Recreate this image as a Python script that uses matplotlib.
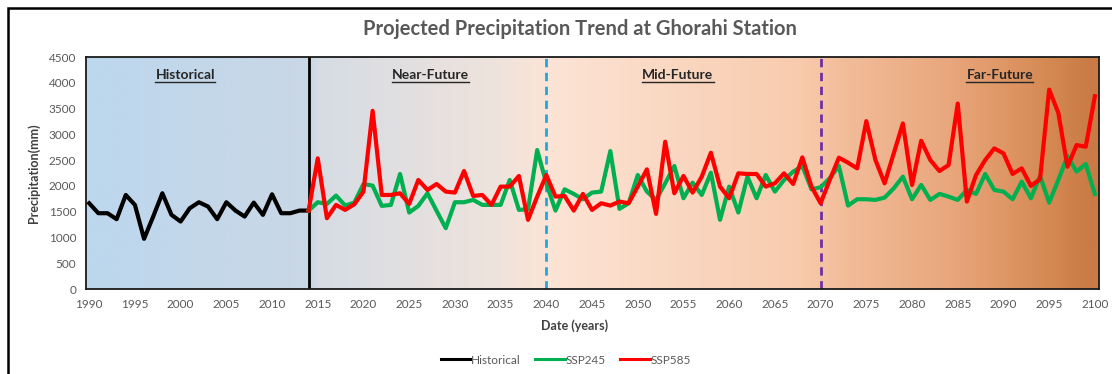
import numpy as np
import matplotlib.pyplot as plt
from matplotlib.colors import LinearSegmentedColormap
from matplotlib.patches import Rectangle

# annual precipitation (mm) at Ghorahi
hist_years = list(range(1990, 2015))
hist_precip = [1663, 1470, 1470, 1354, 1824, 1631, 973, 1405, 1857, 1438,
               1309, 1567, 1683, 1599, 1354, 1683, 1521, 1405, 1676, 1438,
               1837, 1470, 1470, 1521, 1521]

proj_years = list(range(2014, 2101))
ssp245 = [1521, 1683, 1650, 1812, 1618, 1676, 2037, 2005, 1612, 1631,
          2231, 1483, 1612, 1857, 1515, 1180, 1683, 1683, 1728, 1631,
          1631, 1631, 2115, 1534, 1547, 2695, 2050, 1521, 1934, 1844,
          1741, 1870, 1889, 2675, 1554, 1663, 2211, 1889, 1728, 2050,
          2385, 1760, 2063, 1824, 2256, 1341, 1986, 1483, 2179, 1760,
          2211, 1889, 2115, 2276, 2385, 1934, 1973, 2150, 2385, 1618,
          1741, 1741, 1728, 1773, 1953, 2179, 1741, 2018, 1728, 1844,
          1792, 1728, 1921, 1844, 2231, 1921, 1889, 1741, 2082, 1760,
          2192, 1676, 2115, 2579, 2276, 2424, 1844]
ssp585 = [1521, 2534, 1373, 1631, 1534, 1644, 1889, 3456, 1824, 1824,
          1857, 1650, 2115, 1921, 2037, 1889, 1870, 2289, 1805, 1824,
          1631, 1986, 1986, 2192, 1341, 1792, 2211, 1792, 1805, 1521,
          1844, 1534, 1663, 1618, 1696, 1663, 1986, 2321, 1457, 2856,
          1857, 2192, 1870, 2179, 2643, 1986, 1760, 2244, 2231, 2231,
          1986, 2050, 2244, 2037, 2553, 1986, 1663, 2115, 2547, 2450,
          2340, 3256, 2501, 2050, 2631, 3211, 2018, 2875, 2501, 2289,
          2405, 3597, 1696, 2211, 2501, 2727, 2631, 2231, 2340, 1999,
          2128, 3868, 3417, 2372, 2792, 2759, 3739]

periods = ["Historical", "Near-Future", "Mid-Future", "Far-Future"]
period_label_x = [2000.5, 2027.3, 2054.4, 2089.6]
period_breaks = [2014, 2040, 2070]

# background colour ramp: blue for the past, warming to brown at the end
ramp_years = [1990, 2014, 2015, 2035, 2040, 2068, 2072, 2085, 2095, 2100]
ramp_colors = ["#BDD7EE", "#CAD7E6", "#D6DCE4", "#EFE3DC", "#FCE4D6",
               "#F8CBAD", "#F3BE9C", "#E8A57A", "#D68A53", "#C97A45"]

plt.rcParams['font.family'] = ['Lato', 'DejaVu Sans']
grey = "#595959"

fig = plt.figure(figsize=(11.12, 3.74), dpi=100)
ax = fig.add_axes([86/1112, 1 - 289/374, (1099-86)/1112, (289-57)/374])

xmin, xmax = 1989.65, 2100.45

pos = [(y - ramp_years[0]) / (ramp_years[-1] - ramp_years[0]) for y in ramp_years]
cmap = LinearSegmentedColormap.from_list("periods", list(zip(pos, ramp_colors)))
grad = np.linspace(0, 1, 600).reshape(1, -1)
ax.imshow(grad, cmap=cmap, aspect="auto", extent=[1990, 2100, 0, 4500], zorder=0)
ax.axvspan(xmin, 1990, color=ramp_colors[0], lw=0, zorder=0)
ax.axvspan(2100, xmax, color=ramp_colors[-1], lw=0, zorder=0)
ax.set_xlim(xmin, xmax)
ax.set_ylim(0, 4500)

# period boundaries
ax.axvline(period_breaks[0], color="black", lw=2, zorder=2)
ax.axvline(period_breaks[1], color="#1FA8DF", lw=2, ls=(0, (3, 2)), zorder=2)
ax.axvline(period_breaks[2], color="#7030A0", lw=2, ls=(0, (3, 2)), zorder=2)

ax.plot(hist_years, hist_precip, color="black", lw=3, label="Historical", zorder=3)
ax.plot(proj_years, ssp245, color="#00B050", lw=3, label="SSP245", zorder=3)
ax.plot(proj_years, ssp585, color="#FF0000", lw=3, label="SSP585", zorder=4)

fig.canvas.draw()
for name, x in zip(periods, period_label_x):
    t = ax.text(x, 4150, name, ha="center", va="center", fontsize=10,
                fontweight="bold", color="#262626", zorder=5)
    # underline the period names
    bb = t.get_window_extent(renderer=fig.canvas.get_renderer()).transformed(ax.transData.inverted())
    ax.plot([bb.x0, bb.x1], [bb.y0 - 25, bb.y0 - 25], color="#262626", lw=1, zorder=5)

ax.set_xticks(range(1990, 2101, 5))
ax.set_yticks(range(0, 4501, 500))
ax.tick_params(length=0, labelsize=8.5, colors=grey, pad=7)
for s in ax.spines.values():
    s.set_color("#1a1a1a")
    s.set_linewidth(1.3)

ax.set_xlabel("Date (years)", fontsize=9, fontweight="bold", color="#404040")
ax.xaxis.set_label_coords((575 - 86) / (1099 - 86), -0.13)
ax.set_ylabel("Precipitation(mm)", fontsize=9, fontweight="bold", color="#404040", labelpad=6)

fig.text(580/1112, 1 - 29/374, "Projected Precipitation Trend at Ghorahi Station",
         ha="center", va="center", fontsize=14.5, fontweight="bold", color=grey)

fig.legend(loc="center", bbox_to_anchor=(566/1112, 1 - 360/374), ncol=3, frameon=False,
           fontsize=8.5, handlelength=2.5, handletextpad=0.1, columnspacing=1.2,
           labelcolor=grey)
for ln in fig.legends[0].get_lines():
    ln.set_linewidth(2.2)

# outer chart frame
fig.patches.append(Rectangle((8/1112, -0.1), 1.2, 1 - 8/374 + 0.1,
                             transform=fig.transFigure, fill=False,
                             edgecolor="black", lw=1.8))

fig.savefig("out.png", dpi=100)
